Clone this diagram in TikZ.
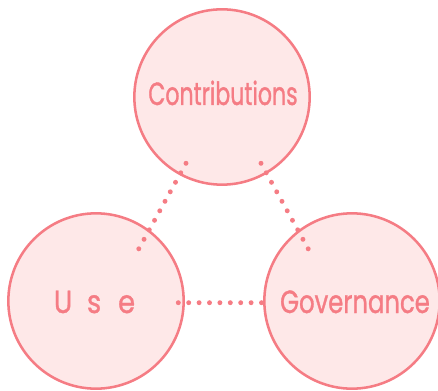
\documentclass[tikz,border=0pt]{standalone}
\usepackage{fontspec}
\usepackage{graphicx}
\setmainfont{Poppins}
\definecolor{rosestroke}{HTML}{F57C84}
\definecolor{rosefill}{HTML}{FEE8E8}
\newcommand{\squeezed}[2][0.69]{\scalebox{#1}[1]{\addfontfeature{FakeBold=1.2}#2}}
\tikzset{
  x=0.75pt,y=-0.75pt,
  topic/.style={circle,draw=rosestroke,fill=rosefill,line width=1.9pt,minimum size=131.5pt,inner sep=0pt},
  lbl/.style={text=rosestroke,inner sep=0pt,anchor=base,font=\fontsize{24}{26}\selectfont},
  dotline/.style={draw=rosestroke,line width=3.7pt,line cap=round},
}
\begin{document}
\begin{tikzpicture}
\useasboundingbox (0,0) rectangle (438,391);
\node[topic] (contrib) at (222,97) {};
\node[topic] (use) at (96,301) {};
\node[topic] (gov) at (352,301) {};
\node[lbl] (t1) at (223,105) {\squeezed{Contributions}};
\node[lbl] (t2) at (94.5,313) {\squeezed[0.85]{U\hspace{13pt}s\hspace{15pt}e}};
\node[lbl] (t3) at (355,313) {\squeezed[0.76]{Governance}};
\coordinate (a1) at (186,163.3);
\coordinate (a2) at (138.7,249);
\coordinate (b1) at (261,163.3);
\coordinate (b2) at (308.3,249);
\coordinate (c1) at (178.3,302.7);
\coordinate (c2) at (261.7,302.7);
\draw[dotline,dash pattern=on 0pt off 8.14pt] (a1) -- (a2);
\draw[dotline,dash pattern=on 0pt off 8.14pt] (b1) -- (b2);
\draw[dotline,dash pattern=on 0pt off 7.8pt] (c1) -- (c2);
\end{tikzpicture}
\end{document}
